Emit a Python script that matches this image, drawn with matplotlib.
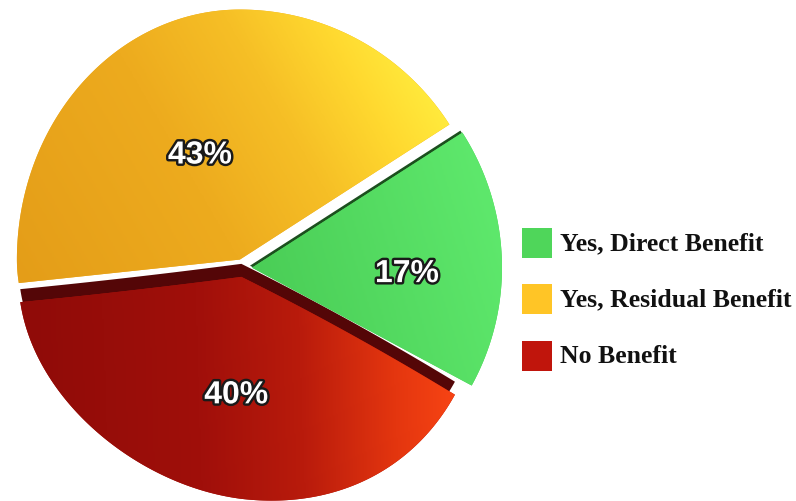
import numpy as np
import matplotlib
matplotlib.use("Agg")
import matplotlib.pyplot as plt
from matplotlib import transforms as mtransforms
from matplotlib.path import Path
from matplotlib.patches import PathPatch, Rectangle
from matplotlib.colors import LinearSegmentedColormap
import matplotlib.patheffects as pe

# ---- data ----
categories = ["Yes, Direct Benefit", "Yes, Residual Benefit", "No Benefit"]
shares = [17, 43, 40]
legend_colors = ["#4FD65A", "#FFC526", "#C0150C"]

# ---- layout / style ----
W, H = 796, 501
pie_center = (243.0, H - 268.0)        # in pixel data coordinates (y up)
explode_px = 9.0
start_angle = -28.5
# outline reach of each slice in pixels: left, right, up, down, and a
# perspective factor that makes the right side of a slice taller
slice_reach = [(250, 250, 250, 247, 0.0),
               (223, 249, 250, 180, 0.0),
               (223, 243, 222, 222, 0.128)]
base_colors = ["#4ACF55", "#F0AE20", "#A8140B"]
gradients = [
    ([(0.0, "#39B443"), (0.5, "#4ACD56"), (1.0, "#5EE86C")], 17, 500),
    ([(0.0, "#E29A17"), (0.5, "#EDAB1E"), (0.72, "#F6BF26"), (0.88, "#FFD82F"), (1.0, "#FFEA3C")], 30, 500),
    ([(0.0, "#8E0B08"), (0.4, "#A00F0A"), (0.62, "#B91B0C"), (0.82, "#E4360F"), (1.0, "#FF4A16")], 2, 470),
]
side_offsets = [(-2, 2), None, (0, 13)]
side_colors = ["#1C4F1E", None, "#540607"]
label_place = [(0.62, -3.2), (0.466, 2.5), (0.52, 8.0)]   # model radius, angle shift


class QuadScale(mtransforms.Transform):
    """Scale a unit pie differently on each side of its apex."""
    input_dims = 2
    output_dims = 2
    has_inverse = False

    def __init__(self, left, right, up, down, persp):
        super().__init__()
        self.left, self.right, self.up, self.down = left, right, up, down
        self.persp = persp

    def transform_non_affine(self, values):
        v = np.asarray(values, dtype=float)
        shape = v.shape
        v = v.reshape(-1, 2)
        x = np.where(v[:, 0] < 0, v[:, 0] * self.left, v[:, 0] * self.right)
        y = np.where(v[:, 1] > 0, v[:, 1] * self.up, v[:, 1] * self.down)
        y = y * (1.0 + self.persp * v[:, 0])
        return np.column_stack([x, y]).reshape(shape)

    def transform_path_non_affine(self, path):
        pts = []
        for seg, code in path.iter_bezier():
            if code == Path.MOVETO:
                pts.append(np.atleast_2d(seg.control_points[0]))
                continue
            pts.append(seg(np.linspace(0, 1, 40)[1:]))
        allpts = np.vstack(pts)
        return Path(self.transform_non_affine(allpts), closed=True)


fig = plt.figure(figsize=(W / 100, H / 100), dpi=100)
ax = fig.add_axes([0, 0, 1, 1])

wedges, _, autotexts = ax.pie(
    shares, colors=base_colors, startangle=start_angle, counterclock=True,
    radius=1, center=(0, 0), autopct="%d%%", pctdistance=0.5,
    wedgeprops=dict(linewidth=0),
)

ax.set_xlim(0, W)
ax.set_ylim(0, H)
ax.set_aspect("auto")
ax.set_axis_off()


def apex_of(w):
    mid = np.deg2rad(0.5 * (w.theta1 + w.theta2))
    return (pie_center[0] + explode_px * np.cos(mid),
            pie_center[1] + explode_px * np.sin(mid))


for i, w in enumerate(wedges):
    ax_x, ax_y = apex_of(w)
    quad = QuadScale(*slice_reach[i])

    # darker side wall peeking out from behind the face
    if side_offsets[i] is not None:
        dx, dy = side_offsets[i]
        side = PathPatch(w.get_path(), facecolor=side_colors[i], edgecolor="none",
                         transform=quad + mtransforms.Affine2D().translate(ax_x + dx, ax_y + dy) + ax.transData,
                         zorder=1)
        ax.add_patch(side)

    w.set_transform(quad + mtransforms.Affine2D().translate(ax_x, ax_y) + ax.transData)
    w.set_zorder(2)

    # shaded face: linear gradient clipped to the slice
    stops, ang, span = gradients[i]
    cmap = LinearSegmentedColormap.from_list(f"g{i}", stops)
    ext = 270
    xs = np.linspace(ax_x - ext, ax_x + ext, 300)
    ys = np.linspace(ax_y - ext, ax_y + ext, 300)
    X, Y = np.meshgrid(xs, ys)
    a = np.deg2rad(ang)
    t = ((X - ax_x) * np.cos(a) + (Y - ax_y) * np.sin(a)) / span + 0.5
    im = ax.imshow(np.clip(t, 0, 1), cmap=cmap, vmin=0, vmax=1, origin="lower",
                   extent=(ax_x - ext, ax_x + ext, ax_y - ext, ax_y + ext),
                   interpolation="bilinear", zorder=3, aspect="auto")
    im.set_clip_path(w)

    # percentage label
    r, shift = label_place[i]
    la = np.deg2rad(0.5 * (w.theta1 + w.theta2) + shift)
    lx, ly = quad.transform_non_affine(np.array([[r * np.cos(la), r * np.sin(la)]]))[0]
    txt = autotexts[i]
    txt.set_position((ax_x + lx, ax_y + ly - 11.5))
    txt.set_ha("center")
    txt.set_va("baseline")
    txt.set_color("white")
    txt.set_fontfamily("Liberation Sans")
    txt.set_fontweight("bold")
    txt.set_fontsize(23)
    txt.set_zorder(5)
    txt.set_path_effects([pe.Stroke(linewidth=3.5, foreground="#1A1A1A"), pe.Normal()])

ax.set_xlim(0, W)
ax.set_ylim(0, H)

# legend
box_x, box_size = 522, 30
row_centers = [243, 299, 356]
for name, col, yc in zip(categories, legend_colors, row_centers):
    ax.add_patch(Rectangle((box_x, H - yc - box_size / 2), box_size, box_size,
                           facecolor=col, edgecolor="none", zorder=4))
    ax.text(560, H - yc - 7, name, ha="left", va="baseline", fontsize=18.5,
            fontfamily="Liberation Serif", fontweight="bold", color="#111111", zorder=4)

fig.savefig("out.png", dpi=100)
